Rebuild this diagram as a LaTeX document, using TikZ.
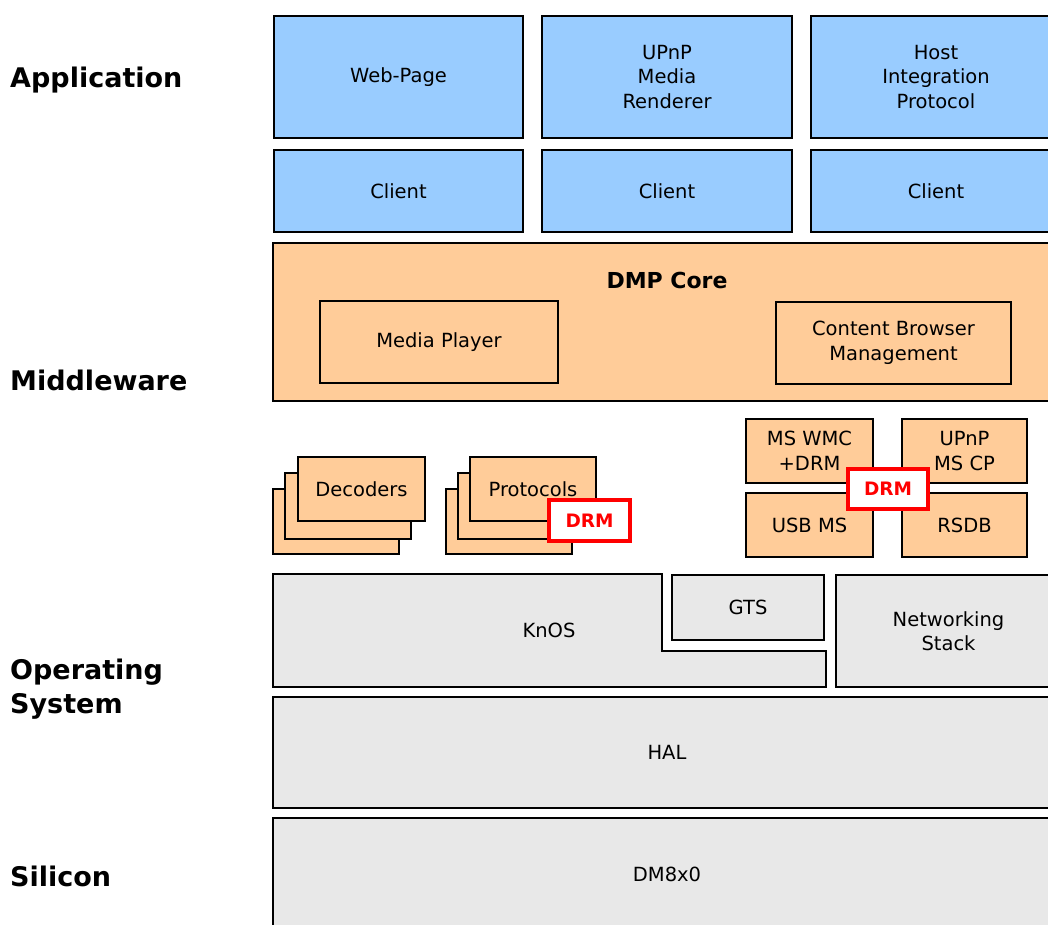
\documentclass[tikz,border=0pt]{standalone}
\usepackage{fontspec}
\setmainfont{DejaVu Sans}
\definecolor{appblue}{HTML}{99CCFF}
\definecolor{midorange}{HTML}{FFCC99}
\definecolor{osgray}{HTML}{E8E8E8}
\definecolor{drmred}{HTML}{FF0000}
% style, name, x1, y1, x2, y2, text
\newcommand{\placebox}[7]{%
  \pgfmathsetmacro\bxcx{(#3+#5)/2}%
  \pgfmathsetmacro\bxcy{(#4+#6)/2}%
  \pgfmathsetmacro\bxw{#5-#3}%
  \pgfmathsetmacro\bxh{#6-#4}%
  \node[#1, minimum width=\bxw pt, minimum height=\bxh pt] (#2) at (\bxcx,\bxcy) {#7};}
\begin{document}
\begin{tikzpicture}[x=1pt,y=-1pt,
  box/.style={draw=black, line width=2.5pt, inner sep=0pt, align=center, font=\fontsize{19.5}{24.5}\selectfont},
  app/.style={box, fill=appblue},
  mid/.style={box, fill=midorange},
  os/.style={box, fill=osgray},
  drm/.style={draw=drmred, fill=white, line width=3.5pt, inner sep=0pt, text=drmred, font=\fontsize{18.5}{22}\selectfont\bfseries},
  layer/.style={anchor=west, align=left, inner sep=0pt, font=\fontsize{27}{34}\selectfont\bfseries},
  txt/.style={inner sep=0pt, align=center, font=\fontsize{19.5}{24.5}\selectfont}
]
\useasboundingbox (0,0) rectangle (1048,925);
\clip (0,0) rectangle (1048,925);

% layer labels
\node[layer] (lapp) at (10,80) {Application};
\node[layer] (lmid) at (10,380) {Middleware};
\node[layer] (los) at (10,689) {Operating\\System};
\node[layer] (lsil) at (10,876) {Silicon};

% application
\placebox{app}{web}{274}{16}{523}{138}{Web-Page}
\placebox{app}{upnp}{542}{16}{792}{138}{UPnP\\Media\\Renderer}
\placebox{app}{hip}{811}{16}{1061}{138}{Host\\Integration\\Protocol}
\placebox{app}{cl1}{274}{150}{523}{232}{Client}
\placebox{app}{cl2}{542}{150}{792}{232}{Client}
\placebox{app}{cl3}{811}{150}{1061}{232}{Client}

% DMP core
\placebox{mid}{dmp}{273}{243}{1061}{401}{}
\node[inner sep=0pt, font=\fontsize{22}{26}\selectfont\bfseries] (dmptitle) at (667,280) {DMP Core};
\placebox{mid}{mp}{320}{301}{558}{383}{Media Player}
\placebox{mid}{cbm}{776}{302}{1011}{384}{Content Browser\\Management}

% decoders stack
\placebox{mid}{dec3}{273}{489}{399}{554}{}
\placebox{mid}{dec2}{285}{473}{411}{539}{}
\placebox{mid}{dec1}{298}{457}{425}{521}{Decoders}

% protocols stack
\placebox{mid}{pro3}{446}{489}{572}{554}{}
\placebox{mid}{pro2}{458}{473}{584}{539}{}
\placebox{mid}{pro1}{470}{457}{596}{521}{Protocols}
\placebox{drm}{drm1}{549}{500}{630}{541}{DRM}

% right middleware cluster
\placebox{mid}{wmc}{746}{419}{873}{483}{MS WMC\\+DRM}
\placebox{mid}{mscp}{902}{419}{1027}{483}{UPnP\\MS CP}
\placebox{mid}{usb}{746}{493}{873}{557}{USB MS}
\placebox{mid}{rsdb}{902}{493}{1027}{557}{RSDB}
\placebox{drm}{drm2}{848}{469}{928}{509}{DRM}

% operating system
\draw[fill=osgray, draw=black, line width=1.8pt]
  (273,574) -- (662,574) -- (662,651) -- (826,651) -- (826,687) -- (273,687) -- cycle;
\node[txt] (knos) at (549,630) {KnOS};
\placebox{os}{gts}{672}{575}{824}{640}{GTS}
\placebox{os}{net}{836}{575}{1061}{687}{Networking\\Stack}
\placebox{os}{hal}{273}{697}{1061}{808}{HAL}
\placebox{os}{dm}{273}{818}{1061}{930}{DM8x0}
\end{tikzpicture}
\end{document}
